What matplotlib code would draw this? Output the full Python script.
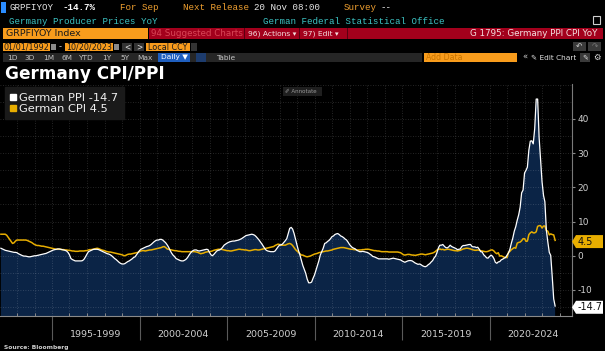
import numpy as np
import pandas as pd
import matplotlib
matplotlib.use('Agg')
import matplotlib.pyplot as plt
import matplotlib.dates as mdates
import matplotlib.transforms as mtransforms
from matplotlib.patches import Rectangle, Polygon
from matplotlib.lines import Line2D

plt.rcParams.update({'font.family': 'DejaVu Sans', 'axes.unicode_minus': False})

# monthly YoY %, Jan 1992 .. Sep 2023
ppi_yoy = [
    2.2, 2.0, 1.8, 1.6, 1.5, 1.4, 1.3, 1.2, 1.1, 1.0, 1.0, 0.9,          # 1992
    0.6, 0.4, 0.2, 0.0, -0.1, -0.1, -0.2, -0.3, -0.3, -0.2, -0.1, 0.0,   # 1993
    0.0, 0.1, 0.2, 0.3, 0.4, 0.5, 0.6, 0.7, 0.9, 1.1, 1.3, 1.5,          # 1994
    1.7, 1.8, 1.9, 2.0, 2.0, 1.9, 1.8, 1.7, 1.6, 1.4, 1.0, 0.3,          # 1995
    -0.8, -1.1, -1.3, -1.5, -1.5, -1.5, -1.5, -1.5, -1.4, -1.0, -0.3, 0.5,  # 1996
    1.2, 1.4, 1.6, 1.8, 1.9, 1.9, 1.9, 1.8, 1.6, 1.4, 1.2, 1.0,          # 1997
    0.8, 0.6, 0.5, 0.3, 0.0, -0.4, -0.8, -1.1, -1.5, -1.9, -2.2, -2.4,   # 1998
    -2.4, -2.3, -2.0, -1.7, -1.5, -1.2, -0.9, -0.5, -0.3, 0.3, 0.9, 1.5, # 1999
    1.9, 2.1, 2.3, 2.5, 2.7, 2.8, 3.0, 3.3, 3.7, 4.1, 4.4, 4.6,          # 2000
    4.6, 4.8, 4.8, 4.6, 4.2, 3.8, 3.2, 2.5, 1.6, 0.8, 0.2, -0.2,         # 2001
    -0.8, -1.0, -1.2, -1.4, -1.5, -1.5, -1.3, -1.0, -0.5, 0.2, 0.8, 1.3, # 2002
    1.6, 1.7, 1.7, 1.5, 1.4, 1.5, 1.6, 1.7, 1.8, 1.9, 1.8, 1.0,          # 2003
    0.3, 0.0, 0.4, 0.9, 1.4, 1.6, 1.7, 2.0, 2.5, 3.1, 3.4, 3.7,          # 2004
    3.9, 4.1, 4.2, 4.3, 4.3, 4.4, 4.5, 4.6, 4.8, 5.0, 5.3, 5.6,          # 2005
    5.9, 6.0, 6.1, 6.2, 6.3, 6.2, 6.0, 5.6, 5.1, 4.6, 4.0, 3.4,          # 2006
    2.7, 2.1, 1.6, 1.4, 1.3, 1.2, 1.2, 1.2, 1.4, 2.0, 2.6, 3.1,          # 2007
    3.2, 3.4, 3.9, 4.4, 5.0, 6.5, 8.0, 8.3, 7.8, 6.5, 4.8, 3.1,          # 2008
    1.5, 0.3, -1.3, -2.8, -4.0, -5.1, -6.8, -7.9, -7.9, -7.7, -6.6, -5.6,  # 2009
    -4.2, -3.0, -1.5, 0.2, 1.2, 2.2, 3.6, 3.8, 4.2, 4.5, 5.0, 5.6,       # 2010
    5.8, 6.2, 6.4, 6.5, 6.2, 5.8, 5.6, 5.3, 4.9, 4.6, 4.0, 3.3,          # 2011
    2.8, 2.4, 2.2, 2.0, 1.6, 1.4, 1.2, 1.2, 1.3, 1.2, 1.1, 1.0,          # 2012
    0.8, 0.5, 0.2, -0.2, -0.3, -0.5, -0.7, -0.9, -0.9, -0.9, -0.9, -0.9, # 2013
    -0.9, -0.9, -1.0, -0.9, -0.8, -0.7, -0.8, -0.9, -1.0, -1.1, -1.2, -1.5,  # 2014
    -1.7, -1.9, -1.7, -1.5, -1.4, -1.4, -1.5, -1.8, -2.1, -2.3, -2.5, -2.4,  # 2015
    -2.6, -2.9, -3.1, -3.2, -3.0, -2.6, -2.3, -1.8, -1.4, -0.6, -0.1, 1.0,   # 2016
    2.4, 3.1, 3.1, 3.3, 2.8, 2.4, 2.3, 2.6, 3.1, 2.7, 2.5, 2.3,          # 2017
    2.1, 1.8, 1.9, 2.0, 2.7, 3.0, 3.0, 3.1, 3.2, 3.3, 3.3, 2.7,          # 2018
    2.6, 2.6, 2.4, 2.5, 1.9, 1.2, 1.1, 0.3, -0.1, -0.6, -0.7, -0.2,      # 2019
    0.2, -0.1, -0.8, -1.9, -2.2, -1.8, -1.7, -1.2, -1.0, -0.7, -0.5, 0.2,  # 2020
    0.9, 1.9, 3.7, 5.2, 7.2, 8.5, 10.4, 12.0, 14.2, 18.4, 19.2, 24.2,    # 2021
    25.0, 25.9, 30.9, 33.5, 33.6, 32.7, 37.2, 45.8, 45.8, 34.5, 28.2, 21.6,  # 2022
    17.6, 15.8, 7.5, 4.1, 1.0, 0.1, -6.0, -12.6, -14.7,                  # 2023
]

cpi_yoy = [
    6.3, 6.3, 6.3, 6.3, 6.0, 5.4, 4.8, 4.2, 3.6, 3.8, 4.3, 4.6,          # 1992
    4.6, 4.6, 4.6, 4.6, 4.6, 4.6, 4.5, 4.3, 4.1, 3.9, 3.6, 3.3,          # 1993
    3.1, 3.0, 3.0, 2.9, 2.8, 2.8, 2.7, 2.6, 2.5, 2.4, 2.3, 2.2,          # 1994
    2.1, 2.0, 1.9, 1.9, 1.9, 1.9, 1.8, 1.8, 1.7, 1.7, 1.6, 1.6,          # 1995
    1.5, 1.4, 1.4, 1.3, 1.3, 1.3, 1.4, 1.4, 1.4, 1.4, 1.5, 1.5,          # 1996
    1.7, 1.8, 1.8, 1.9, 2.0, 2.1, 2.2, 2.1, 1.9, 1.7, 1.6, 1.5,          # 1997
    1.3, 1.2, 1.1, 1.1, 1.0, 0.9, 0.8, 0.7, 0.6, 0.5, 0.4, 0.3,          # 1998
    0.1, 0.0, 0.2, 0.4, 0.5, 0.5, 0.6, 0.7, 0.8, 0.9, 1.0, 1.2,          # 1999
    1.4, 1.5, 1.5, 1.4, 1.5, 1.6, 1.7, 1.7, 1.8, 1.9, 2.0, 2.1,          # 2000
    2.2, 2.3, 2.4, 2.6, 2.7, 2.4, 2.0, 1.9, 1.8, 1.7, 1.6, 1.5,          # 2001
    1.5, 1.4, 1.3, 1.3, 1.2, 1.2, 1.2, 1.2, 1.2, 1.2, 1.2, 1.2,          # 2002
    1.2, 1.2, 1.1, 1.0, 0.8, 0.6, 0.7, 0.8, 1.0, 1.1, 1.2, 1.2,          # 2003
    1.3, 1.4, 1.6, 1.7, 1.8, 1.9, 1.9, 1.9, 1.8, 1.7, 1.6, 1.5,          # 2004
    1.5, 1.4, 1.4, 1.5, 1.6, 1.7, 1.8, 1.9, 1.9, 1.8, 1.8, 1.7,          # 2005
    1.7, 1.6, 1.5, 1.5, 1.6, 1.7, 1.8, 1.8, 1.7, 1.7, 1.8, 1.9,          # 2006
    2.0, 2.1, 2.2, 2.3, 2.4, 2.5, 2.6, 2.7, 3.0, 3.2, 3.4, 3.3,          # 2007
    3.1, 3.1, 3.1, 3.1, 3.3, 3.5, 3.6, 3.4, 3.0, 2.4, 1.8, 1.4,          # 2008
    1.0, 0.6, 0.2, 0.2, 0.0, -0.2, -0.3, -0.2, -0.1, 0.1, 0.3, 0.5,      # 2009
    0.6, 0.7, 0.9, 1.0, 1.1, 1.2, 1.3, 1.4, 1.4, 1.5, 1.6, 1.7,          # 2010
    1.9, 2.0, 2.1, 2.2, 2.3, 2.4, 2.4, 2.4, 2.3, 2.2, 2.1, 2.0,          # 2011
    1.9, 1.9, 1.8, 1.8, 1.7, 1.7, 1.7, 1.7, 1.8, 1.8, 1.9, 1.9,          # 2012
    1.9, 1.8, 1.7, 1.6, 1.5, 1.5, 1.4, 1.4, 1.3, 1.2, 1.2, 1.2,          # 2013
    1.2, 1.2, 1.1, 1.1, 1.1, 1.1, 1.1, 1.1, 1.1, 1.0, 0.9, 0.6,          # 2014
    0.3, 0.2, 0.3, 0.4, 0.4, 0.3, 0.2, 0.2, 0.1, 0.2, 0.3, 0.4,          # 2015
    0.5, 0.5, 0.4, 0.3, 0.4, 0.5, 0.6, 0.7, 0.8, 1.0, 1.3, 1.7,          # 2016
    1.9, 2.0, 1.8, 1.9, 1.7, 1.8, 1.9, 1.9, 1.8, 1.7, 1.6, 1.5,          # 2017
    1.5, 1.4, 1.5, 1.6, 1.8, 2.0, 2.1, 2.2, 2.2, 2.1, 2.0, 1.8,          # 2018
    1.7, 1.6, 1.6, 1.7, 1.6, 1.5, 1.4, 1.3, 1.2, 1.2, 1.3, 1.5,          # 2019
    1.7, 1.7, 1.4, 0.9, 0.6, 0.9, -0.1, 0.0, -0.2, -0.4, -0.5, -0.5,     # 2020
    1.0, 1.3, 1.8, 2.1, 2.4, 2.2, 3.7, 3.9, 4.0, 4.4, 5.0, 5.0,          # 2021
    4.2, 4.3, 6.2, 6.7, 7.0, 6.7, 6.7, 7.0, 8.6, 8.8, 8.8, 8.1,          # 2022
    8.7, 8.7, 7.4, 7.2, 6.1, 6.4, 6.2, 6.1, 4.5,                         # 2023
]

dates = pd.date_range('1992-01-31', periods=len(ppi_yoy), freq='ME')
series_names = ['German PPI', 'German CPI']
y_ticks = [-10, 0, 10, 20, 30, 40]
period_starts = [1995, 2000, 2005, 2010, 2015, 2020]

W, H = 605, 351
BG = '#000000'
NAVY = '#0b2446'
GOLD = '#e8ae00'
ORANGE = '#f89c1c'
AMBER = '#f0a030'
TEAL = '#3cc4c4'
RED = '#a3001c'

fig = plt.figure(figsize=(W / 100, H / 100), dpi=100, facecolor=BG)


def px(x, y):
    return x / W, 1 - y / H


def box(x0, y0, x1, y1, color, z=1):
    fig.add_artist(Rectangle(px(x0, y1), (x1 - x0) / W, (y1 - y0) / H,
                             transform=fig.transFigure, fc=color, ec='none', zorder=z))


def txt(x, y, s, color='#e0e0e0', size=6.6, family='Liberation Mono', **kw):
    fx, fy = px(x, y)
    return fig.text(fx, fy, s, color=color, fontsize=size, family=family,
                    va='center', ha=kw.pop('ha', 'left'), zorder=kw.pop('zorder', 5), **kw)


# ---- terminal header ----
box(1, 2, 6, 13, '#2a8cff')
txt(9, 8, 'GRPFIYOY', '#e8e8e8')
txt(62, 8, '-14.7%', '#ffffff', weight='bold')
txt(120, 8, 'For Sep', AMBER)
txt(183, 8, 'Next Release', AMBER)
txt(254, 8, '20 Nov 08:00', '#e8e8e8')
txt(344, 8, 'Survey', AMBER)
txt(381, 8, '--', '#e8e8e8')
txt(9, 21, 'Germany Producer Prices YoY', TEAL)
txt(263, 21, 'German Federal Statistical Office', TEAL)
fig.add_artist(Rectangle(px(593, 24), 7 / W, 8 / H, transform=fig.transFigure,
                         fc='none', ec='#cfcfcf', lw=0.8))

box(3, 28, 148, 39, ORANGE)
txt(6, 33.5, 'GRPFIYOY Index', '#1a1a1a', size=6.8, family='DejaVu Sans')
box(149, 28, 603, 39, RED)
box(244, 28, 245, 39, '#5a0010', z=2)
box(299, 28, 300, 39, '#5a0010', z=2)
box(347, 28, 348, 39, '#5a0010', z=2)
txt(151, 33.5, '94 Suggested Charts', '#d84656', size=6.3, family='DejaVu Sans')
txt(248, 33.5, '96) Actions \u25be', '#f4e0e0', size=5.4, family='DejaVu Sans')
txt(303, 33.5, '97) Edit \u25be', '#f4e0e0', size=5.4, family='DejaVu Sans')
txt(597, 33.5, 'G 1795: Germany PPI CPI YoY', '#f4e0e0', size=6.3, family='DejaVu Sans', ha='right')

box(3, 43, 50, 51, ORANGE)
txt(4, 47, '01/01/1992', '#1a1a1a', size=5.8, family='DejaVu Sans')
box(51, 44, 56, 50, '#8a8a8a')
txt(59, 47, '-', '#cfcfcf', size=6, family='DejaVu Sans')
box(65, 43, 113, 51, ORANGE)
txt(66, 47, '10/20/2023', '#1a1a1a', size=5.8, family='DejaVu Sans')
box(114, 44, 119, 50, '#8a8a8a')
box(122, 43, 132, 51, '#333333')
txt(127, 47, '<', '#e0e0e0', size=5.5, family='DejaVu Sans', ha='center')
box(134, 43, 144, 51, '#333333')
txt(139, 47, '>', '#e0e0e0', size=5.5, family='DejaVu Sans', ha='center')
box(146, 43, 190, 51, ORANGE)
txt(148, 47, 'Local CCY', '#1a1a1a', size=5.8, family='DejaVu Sans')
box(191, 43, 197, 51, '#333333')
box(573, 42, 586, 51, '#3a3a3a')
box(588, 42, 601, 51, '#3a3a3a')
txt(579.5, 46.5, '\u21b6', '#d0d0d0', size=5.5, family='DejaVu Sans', ha='center')
txt(594.5, 46.5, '\u21b7', '#777777', size=5.5, family='DejaVu Sans', ha='center')

box(3, 53, 422, 62, '#262626')
for lab, x in zip(['1D', '3D', '1M', '6M', 'YTD', '1Y', '5Y', 'Max'],
                  [12, 30, 49, 67, 85, 107, 125, 145]):
    txt(x, 57.5, lab, '#c4c4c4', size=5.3, family='DejaVu Sans', ha='center')
box(158, 53, 190, 62, '#1f5fbf')
txt(174, 57.5, 'Daily \u25bc', '#ffffff', size=5.3, family='DejaVu Sans', ha='center')
box(196, 53, 206, 62, '#1d3c6e')
txt(216, 57.5, 'Table', '#c4c4c4', size=5.3, family='DejaVu Sans')
box(424, 53, 517, 62, ORANGE)
txt(426, 57.5, 'Add Data', '#c87400', size=5.6, family='DejaVu Sans')
txt(522, 57.5, '\u00ab', '#d0d0d0', size=6, family='DejaVu Sans')
txt(531, 57.5, '\u270e Edit Chart', '#e0e0e0', size=5.3, family='DejaVu Sans')
box(580, 53, 590, 62, '#3a3a3a')
txt(585, 57.5, '\u270e', '#e0e0e0', size=5, family='DejaVu Sans', ha='center')
txt(597, 57.5, '\u2699', '#e0e0e0', size=6, family='DejaVu Sans', ha='center')

txt(5, 74, 'Germany CPI/PPI', '#ffffff', size=12.2, family='DejaVu Sans', weight='bold')
txt(4, 347, 'Source: Bloomberg', '#cfcfcf', size=4.3, family='DejaVu Sans', weight='bold')

# ---- chart ----
ax_l, ax_r, ax_t, ax_b = 0, 572, 84, 316
ax = fig.add_axes([ax_l / W, 1 - ax_b / H, (ax_r - ax_l) / W, (ax_b - ax_t) / H])
ax.set_facecolor(BG)
ymin, ymax = -17.6, 50.2
ax.set_ylim(ymin, ymax)
ax.set_xlim(pd.Timestamp('1992-01-12'), pd.Timestamp('2024-09-16'))

ax.fill_between(dates, ppi_yoy, ymin - 50, color=NAVY, lw=0, zorder=1)
ax.plot(dates, cpi_yoy, color=GOLD, lw=1.1, zorder=3)
ax.plot(dates, ppi_yoy, color='#ffffff', lw=0.9, zorder=4)

ax.set_axisbelow('line')
ax.yaxis.tick_right()
ax.set_yticks(y_ticks)
ax.set_yticks(np.arange(-15, 51, 5), minor=True)
ax.set_yticklabels([str(v) for v in y_ticks])
ax.tick_params(axis='y', which='major', length=2.5, width=0.8, color='#8a8a8a',
               labelsize=6.5, labelcolor='#cfcfcf', pad=1.5)
ax.tick_params(axis='y', which='minor', length=0)

ax.xaxis.set_major_locator(mdates.YearLocator(5))
ax.xaxis.set_minor_locator(mdates.YearLocator(1))
ax.tick_params(axis='x', which='major', length=17, width=0.8, color='#5a5a5a',
               direction='out', labelbottom=False)
ax.tick_params(axis='x', which='minor', length=2.5, width=0.7, color='#8a8a8a',
               direction='in')
ax.grid(which='both', color='#ffffff', alpha=0.2, lw=0.6, ls=(0, (1, 2)))

for s in ['top', 'left']:
    ax.spines[s].set_visible(False)
ax.spines['right'].set_color('#7a7a7a')
ax.spines['right'].set_linewidth(0.8)
ax.spines['bottom'].set_color('#8a8a8a')
ax.spines['bottom'].set_linewidth(0.8)

trans_x = mtransforms.blended_transform_factory(ax.transData, ax.transAxes)
for y0 in period_starts:
    mid = pd.Timestamp(f'{y0 + 2}-07-02')
    ax.text(mid, -0.078, f'{y0}-{y0 + 4}', transform=trans_x, ha='center', va='center',
            fontsize=6.8, color='#cfcfcf', clip_on=False)

# legend
handles = [Line2D([], [], marker='s', ls='none', ms=4.2, color=c, mec=c)
           for c in ['#ffffff', GOLD]]
labels = [f'{series_names[0]} {ppi_yoy[-1]:g}', f'{series_names[1]} {cpi_yoy[-1]:g}']
leg = ax.legend(handles, labels, loc='upper left', bbox_to_anchor=(0.008, 0.985),
                fontsize=8.2, labelcolor='#f0f0f0', frameon=True, fancybox=False,
                facecolor='#1a1a1a', edgecolor='#1a1a1a', framealpha=1,
                handlelength=0.6, handletextpad=0.25, borderpad=0.45,
                labelspacing=0.15, borderaxespad=0)
leg.set_zorder(6)

# annotate button
box(283, 87, 322, 96, '#1f1f1f', z=6)
txt(285, 91.5, '\u2710 Annotate', '#9a9a9a', size=4.0, family='DejaVu Sans', zorder=7)

# last value tags on the axis
for val, fc in [(cpi_yoy[-1], GOLD), (ppi_yoy[-1], '#ffffff')]:
    xd, yd = ax.transData.transform((mdates.date2num(dates[-1]), val))
    x0 = ax.transAxes.transform((1, 0))[0]
    yc = yd - 1.2
    poly = Polygon([(x0, yc), (x0 + 4, yc + 6.5), (x0 + 31, yc + 6.5),
                    (x0 + 31, yc - 6.5), (x0 + 4, yc - 6.5)], closed=True,
                   transform=mtransforms.IdentityTransform(), fc=fc, ec='none',
                   zorder=8, clip_on=False)
    fig.add_artist(poly)
    fig.text(x0 + 5.5, yc, f'{val:g}', transform=mtransforms.IdentityTransform(),
             fontsize=7, color='#111111', va='center', ha='left', zorder=9)

fig.savefig('out.png', dpi=100, facecolor=BG)
